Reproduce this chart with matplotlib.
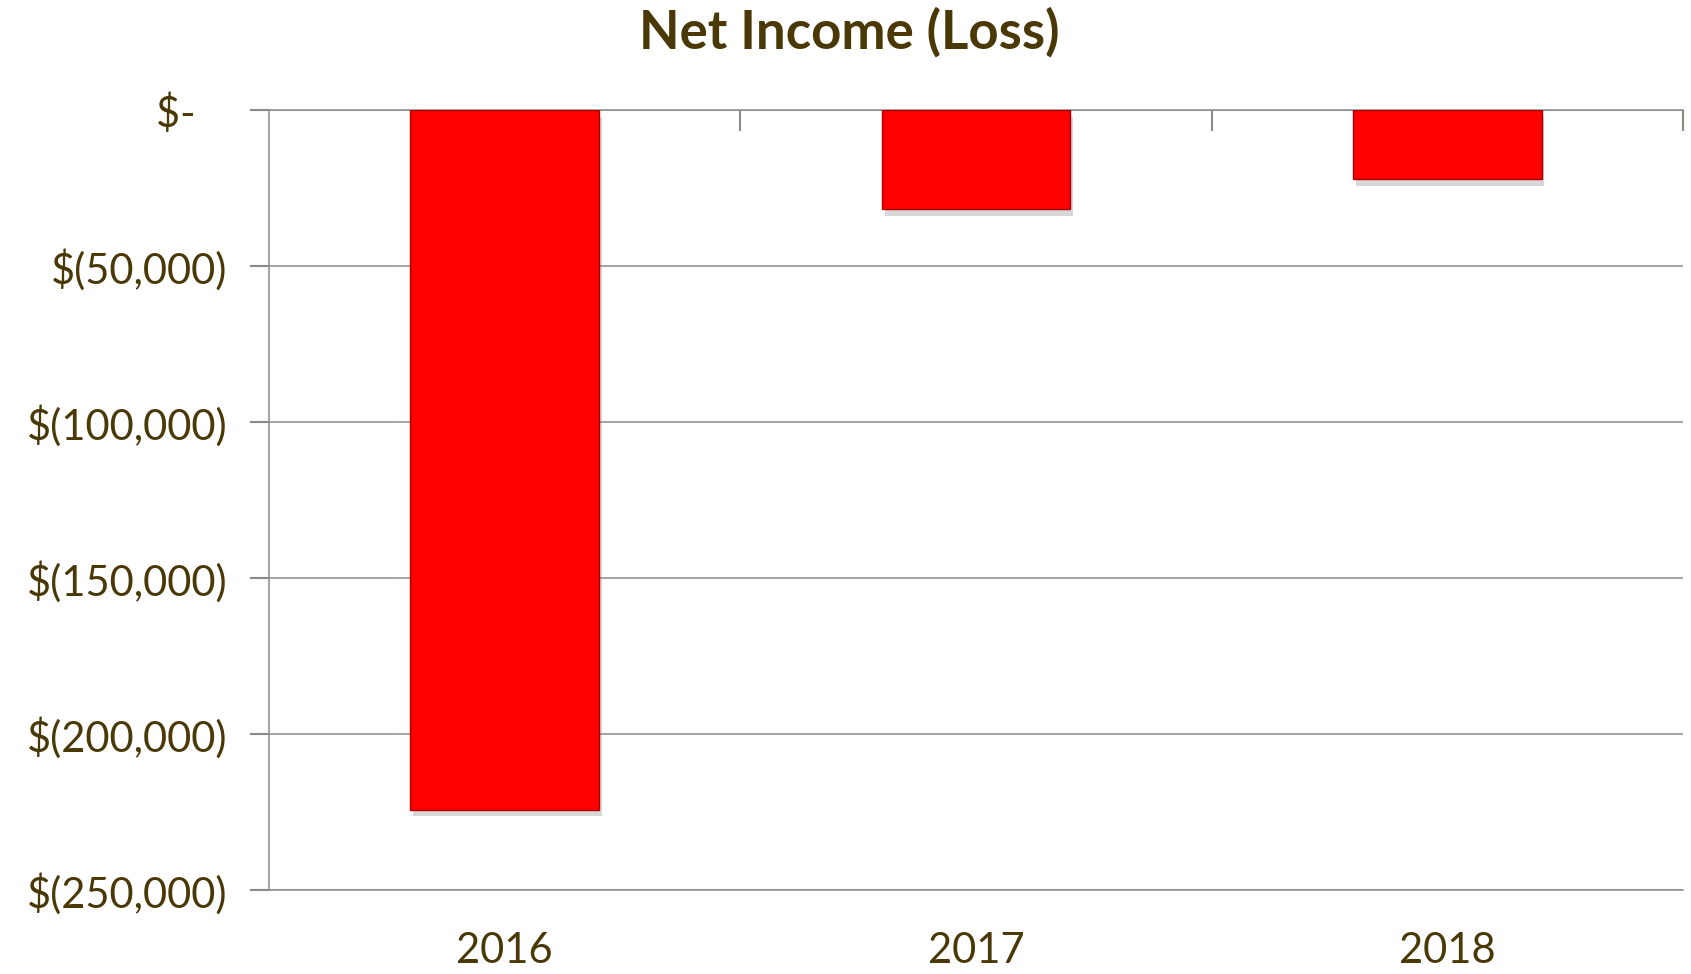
import matplotlib
matplotlib.use("Agg")
import matplotlib.pyplot as plt
import matplotlib.patheffects as pe
from matplotlib.ticker import FixedLocator, FuncFormatter

years = ["2016", "2017", "2018"]
net_income = [-224200, -31700, -22100]
y_ticks = [0, -50000, -100000, -150000, -200000, -250000]

TEXT = "#4A3806"
GRID = "#8E8A86"
plt.rcParams["font.family"] = ["Lato", "DejaVu Sans"]

fig = plt.figure(figsize=(16.91, 9.74), dpi=100)
ax = fig.add_axes([0.1591, 0.0862, 0.8362, 0.8008])

x = list(range(len(years)))
bars = ax.bar(x, net_income, width=0.40, color="#FF0000",
              edgecolor="#A80000", linewidth=1.0, zorder=3)
for b in bars:
    b.set_path_effects([
        pe.SimplePatchShadow(offset=(2, -5), shadow_rgbFace="#666666", alpha=0.25),
        pe.Normal(),
    ])

ax.set_xlim(-0.5, len(years) - 0.5)
ax.set_ylim(min(y_ticks), 0)

def money(v, _pos):
    if v == 0:
        return "$-   "
    return "$({:,.0f})".format(abs(v))

ax.yaxis.set_major_locator(FixedLocator(y_ticks))
ax.yaxis.set_major_formatter(FuncFormatter(money))
ax.tick_params(axis="y", which="major", direction="out", length=14,
               width=1.5, color=GRID, labelsize=30, labelcolor=TEXT, pad=16)

ax.set_xticks(x)
ax.set_xticklabels(years)
ax.tick_params(axis="x", which="major", length=0, labelsize=30,
               labelcolor=TEXT, pad=30)

# category boundary ticks hanging from the zero line
ax.xaxis.set_minor_locator(FixedLocator([i + 0.5 for i in x]))
ax.tick_params(axis="x", which="minor", bottom=False, top=True,
               direction="in", length=15, width=1.5, color=GRID)

ax.grid(axis="y", color=GRID, linewidth=1.1, zorder=0)
for side in ("left", "top", "bottom"):
    ax.spines[side].set_color(GRID)
    ax.spines[side].set_linewidth(1.1)
ax.spines["right"].set_visible(False)

fig.text(0.502, 0.967, "Net Income (Loss)", ha="center", va="center",
         fontsize=38, fontweight="bold", color=TEXT)

fig.savefig("out.png", dpi=100, facecolor="white")
